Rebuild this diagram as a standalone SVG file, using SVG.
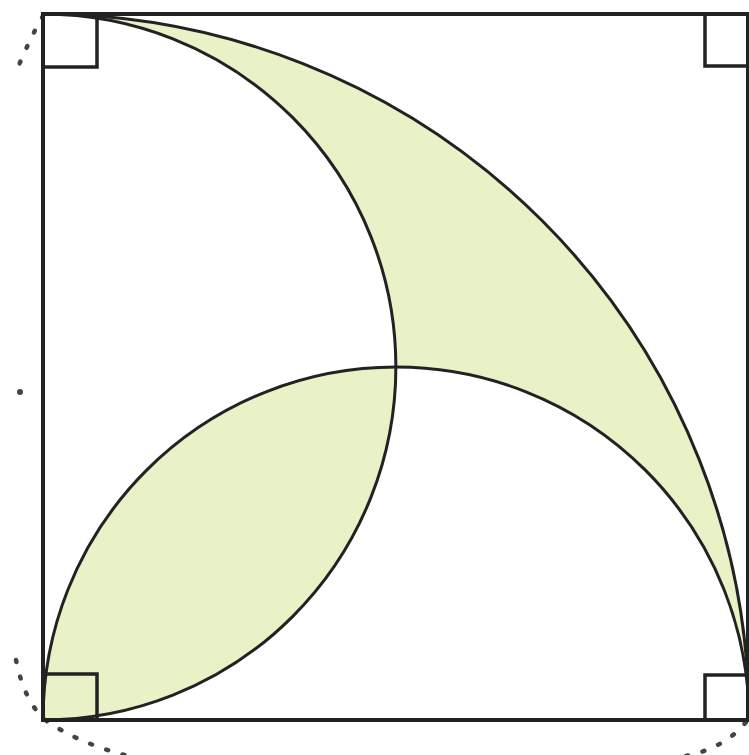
<svg xmlns="http://www.w3.org/2000/svg" width="749" height="755" viewBox="0 0 749 755">
<style>
.fill{fill:#e9f1c6;stroke:none}
.arc{fill:none;stroke:#222;stroke-width:3}
.edge{fill:none;stroke:#222;stroke-width:4}
.mark{fill:none;stroke:#222;stroke-width:3.5}
.dash{fill:none;stroke:#444;stroke-width:4.5;stroke-dasharray:2 15;stroke-linecap:round}
</style>
<rect x="0" y="0" width="749" height="755" fill="#ffffff"/>
<g id="shaded">
<path class="fill" d="M43,14 A706,706 0 0 1 749,720 A353,353 0 0 0 396,367 A353,353 0 0 0 43,14 Z"/>
<path class="fill" d="M43,720 A353,353 0 0 1 396,367 A353,353 0 0 1 43,720 Z"/>
<rect class="fill" x="44" y="674" width="53" height="45"/>
</g>
<g id="dashed">
<path class="dash" d="M43,16 Q30,38 16,72"/>
<path class="dash" d="M16,660 Q24,700 44,719 Q75,742 128,756"/>
<path class="dash" d="M686,756 Q725,748 746,722"/>
<circle cx="20" cy="392" r="3" fill="#444"/>
</g>
<g id="arcs">
<path class="arc" d="M43,14 A706,706 0 0 1 749,720"/>
<path class="arc" d="M43,14 A353,353 0 0 1 43,720"/>
<path class="arc" d="M43,720 A353,353 0 0 1 749,720"/>
</g>
<g id="square">
<path class="edge" d="M749,14 L43,14 L43,720 L749,720"/>
<path class="edge" d="M748,14 L748,720"/>
</g>
<g id="right-angles">
<path class="mark" d="M43,67 L97,67 L97,14"/>
<path class="mark" d="M43,674 L97,674 L97,720"/>
<path class="mark" d="M749,66 L705,66 L705,14"/>
<path class="mark" d="M749,675 L705,675 L705,720"/>
</g>
</svg>
